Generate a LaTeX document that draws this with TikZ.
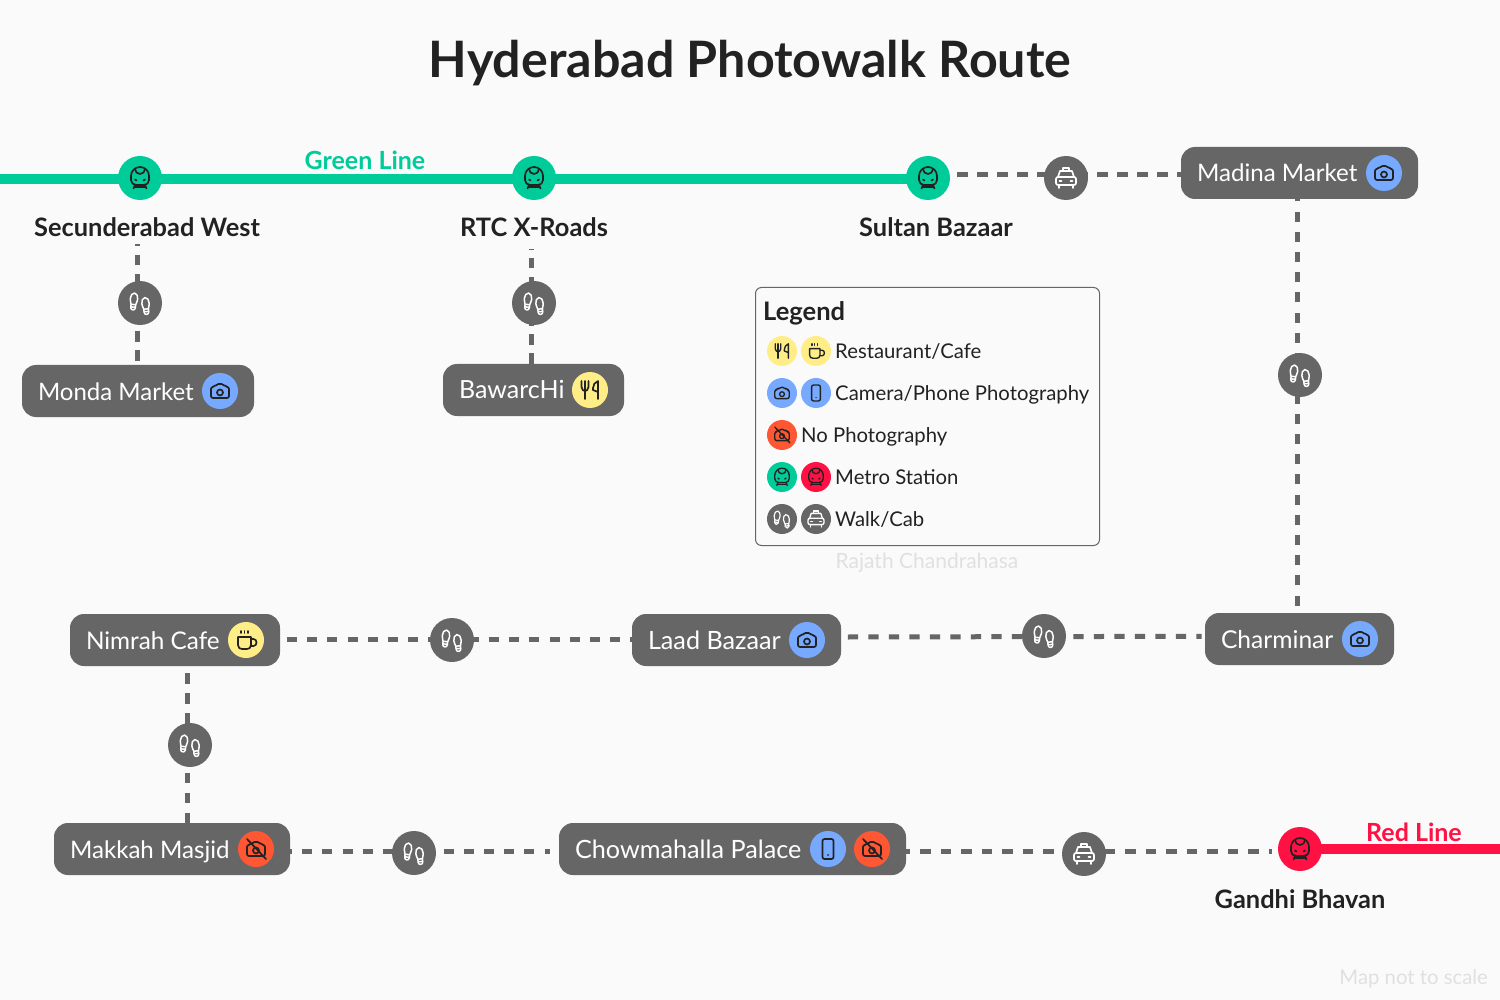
\documentclass[tikz,border=0pt]{standalone}
\usepackage{fontspec}
\setmainfont{Lato}
\usetikzlibrary{backgrounds,calc}
\definecolor{bgc}{HTML}{FAFAFA}
\definecolor{gc}{HTML}{00CC99}
\definecolor{rc}{HTML}{FF1144}
\definecolor{yc}{HTML}{FFEE88}
\definecolor{bc}{HTML}{77AAFF}
\definecolor{oc}{HTML}{FF5733}
\definecolor{pc}{HTML}{666666}
\definecolor{ink}{HTML}{222222}
\definecolor{faint}{HTML}{E0E0E0}
\newcommand{\fs}[1]{\fontsize{#1}{#1}\selectfont}
\tikzset{
  conn/.style={draw=pc,line width=5pt,dash pattern=on 10pt off 10.2pt},
  connw/.style={draw=pc,line width=5pt,dash pattern=on 10.25pt off 10.25pt},
  connv/.style={draw=pc,line width=5pt,dash pattern=on 10.5pt off 8.6pt},
  metroline/.style={line width=10pt},
  stop/.style={circle,minimum size=44pt,inner sep=0pt},
  badge/.style={circle,minimum size=36pt,inner sep=0pt},
  lbadge/.style={circle,minimum size=30pt,inner sep=0pt},
  pill/.style={rectangle,rounded corners=14pt,fill=pc,text=white,inner xsep=16pt,inner ysep=0pt,minimum height=52pt,text height=21pt,text depth=3pt},
  station/.style={font=\fs{25.4}\bfseries,text=ink,anchor=base,inner sep=0pt},
  linelabel/.style={font=\fs{25}\bfseries,anchor=base,inner sep=0pt},
  legtext/.style={font=\fs{20.3}, text=ink, anchor=base west, inner sep=0pt},
  note/.style={font=\fs{21}, text=faint, inner sep=0pt},
}
\newcommand{\icmetro}{
  \draw (-9,-2) arc[start angle=180,end angle=360,radius=9] -- (9,2) arc[start angle=0,end angle=90,radius=5] -- (-4,7) arc[start angle=90,end angle=180,radius=5] -- cycle;
  \draw (-5,-9) arc[start angle=180,end angle=0,radius=5];
  \draw (-5,1.5) -- (-3.5,2.5); \draw (5,1.5) -- (3.5,2.5);
  \draw (-5,7) -- (-6.5,10.5); \draw (5,7) -- (6.5,10.5); \draw (-5.5,9) -- (5.5,9);
}
\newcommand{\icfoot}{
  \draw (0,-8.5) .. controls (2.5,-8.5) and (3.7,-5.5) .. (3.7,-2.5) .. controls (3.7,0) and (2.5,1.5) .. (2.3,3) -- (-2.3,3) .. controls (-2.5,1.5) and (-3.7,0) .. (-3.7,-2.5) .. controls (-3.7,-5.5) and (-2.5,-8.5) .. (0,-8.5) -- cycle;
  \draw (-2.3,3) -- (-2.3,6.2) .. controls (-2.3,9.2) and (2.3,9.2) .. (2.3,6.2) -- (2.3,3);
  \draw (-2.3,5.6) -- (2.3,5.6);
}
\newcommand{\icwalk}{
  \begin{scope}[shift={(-6.3,-1.5)},rotate=-6,line width=\icsc*1.5pt]\icfoot\end{scope}
  \begin{scope}[shift={(5.8,3)},rotate=6,line width=\icsc*1.5pt]\icfoot\end{scope}
}
\newcommand{\iccab}{
  \draw (-3,-7) -- (-3,-10) -- (3,-10) -- (3,-7);
  \draw (-8,-1) -- (-6,-7) -- (6,-7) -- (8,-1);
  \draw[rounded corners=2pt] (-10,-1) -- (10,-1) -- (10,7) -- (-10,7) -- cycle;
  \draw (-6.5,3) -- (-4.5,3); \draw (4.5,3) -- (6.5,3);
  \draw (-7,7) -- (-7,10); \draw (7,7) -- (7,10);
}
\newcommand{\iccam}{
  \draw[rounded corners=2pt] (-9,-4) -- (-5.5,-4) -- (-3.5,-7) -- (3.5,-7) -- (5.5,-4) -- (9,-4) -- (9,7) -- (-9,7) -- cycle;
  \draw (0,1.5) circle[radius=3];
}
\newcommand{\icphone}{
  \draw[rounded corners=2pt] (-5.5,-10) rectangle (5.5,10);
  \draw (0,6) -- (0.1,6);
}
\newcommand{\icnocam}{
  \iccam
  \draw (-9,-10) -- (10,10);
}
\newcommand{\icfork}{
  \draw (-8.5,-9) -- (-8.5,-3) .. controls (-8.5,0) and (-6,1) .. (-5,1) .. controls (-4,1) and (-1.5,0) .. (-1.5,-3) -- (-1.5,-9);
  \draw (-5,-9) -- (-5,9);
  \draw (8,9) -- (8,-9) .. controls (5,-8) and (3,-5) .. (3,-2) -- (3,0) -- (8,2);
}
\newcommand{\iccup}{
  \draw (-8,-3) -- (5,-3) -- (5,5) .. controls (5,8) and (3,9) .. (1,9) -- (-4,9) .. controls (-6,9) and (-8,8) .. (-8,5) -- cycle;
  \draw (5,-1) -- (7.5,-1) .. controls (11.5,-1) and (11.5,6) .. (7.5,6) -- (5,6);
  \draw (-5,-9) -- (-5,-7); \draw (-1.5,-9) -- (-1.5,-7); \draw (2,-9) -- (2,-7);
}
\newcommand{\ico}[4]{%
  \begin{scope}[shift={(#2)},x=#3pt,y=-#3pt,line width=#3*1.7pt,draw=#4,line cap=round,line join=round]
  \def\icsc{#3}%
  \csname ic#1\endcsname
  \end{scope}}
\newcommand{\pillnode}[6][25]{%
  \pgfmathsetmacro{\pw}{#5-#3-32}
  \node[pill,font=\fs{#1}] (#2) at ({(#3+#5)/2},{#4+26}) {\makebox[\pw pt][l]{#6}};}
\newcommand{\badgeat}[5]{%
  \node[badge,fill=#4] (#1) at (#2,#3) {};
  \ico{#5}{#1}{1}{ink}}
\newcommand{\lbadgeat}[5]{%
  \node[lbadge,fill=#4] (#1) at (#2,#3) {};
  \ico{#5}{#1}{0.8}{ink}}
\newcommand{\stopat}[6]{%
  \node[stop,fill=#4] (#1) at (#2,#3) {};
  \ico{#5}{#1}{1}{#6}}
\begin{document}
\begin{tikzpicture}[x=1pt,y=-1pt]
\useasboundingbox (0,0) rectangle (1500,1000);
\node[font=\fs{50.2}\bfseries,text=ink,anchor=base,inner sep=0pt] (title) at (750,77.5) {Hyderabad Photowalk Route};
% stations
\stopat{secw}{140}{178}{gc}{metro}{ink}
\stopat{rtc}{534}{178}{gc}{metro}{ink}
\stopat{sultan}{928}{178}{gc}{metro}{ink}
\stopat{gandhi}{1300}{849}{rc}{metro}{ink}
\node[station] (secwl) at (147,237) {Secunderabad West};
\node[station] (rtcl) at (534,237) {RTC X-Roads};
\node[station] (sultanl) at (936,237) {Sultan Bazaar};
\node[station] (gandhil) at (1300,908) {Gandhi Bhavan};
\node[linelabel,text=gc] (greenl) at (365,169.5) {Green Line};
\node[linelabel,text=rc] (redl) at (1414,841) {Red Line};
\coordinate (greenstart) at (0,179);
\coordinate (redend) at (1500,849);
% transfer circles
\stopat{w1}{140}{303}{pc}{walk}{white}
\stopat{w2}{534}{303}{pc}{walk}{white}
\stopat{w3}{1300}{375}{pc}{walk}{white}
\stopat{w4}{1044}{636}{pc}{walk}{white}
\stopat{w5}{452}{640}{pc}{walk}{white}
\stopat{w6}{190}{745}{pc}{walk}{white}
\stopat{w7}{414}{853}{pc}{walk}{white}
\stopat{c1}{1066}{178}{pc}{cab}{white}
\stopat{c2}{1084}{854}{pc}{cab}{white}
% pills
\pillnode[24]{monda}{22}{365}{254}{Monda Market}
\badgeat{mondab}{220}{391}{bc}{cam}
\pillnode{bawarchi}{443}{364}{624}{BawarcHi}
\badgeat{bawarchib}{590}{390}{yc}{fork}
\pillnode[24.1]{madina}{1181}{147}{1418}{Madina Market}
\badgeat{madinab}{1384}{173}{bc}{cam}
\pillnode[24.6]{charminar}{1205}{613}{1394}{Charminar}
\badgeat{charminarb}{1360}{639}{bc}{cam}
\pillnode[25.2]{laad}{632}{614}{841}{Laad Bazaar}
\badgeat{laadb}{807}{640}{bc}{cam}
\pillnode[24.3]{nimrah}{70}{614}{280}{Nimrah Cafe}
\badgeat{nimrahb}{246}{640}{yc}{cup}
\pillnode[24.1]{makkah}{54}{823}{290}{Makkah Masjid}
\badgeat{makkahb}{256}{849}{oc}{nocam}
\pillnode[25.2]{chow}{559}{823}{906}{Chowmahalla Palace}
\badgeat{chowa}{828}{849}{bc}{phone}
\badgeat{chowb}{872}{849}{oc}{nocam}
% legend
\node[draw=pc,fill=none,rounded corners=6pt,line width=1pt,minimum width=344pt,minimum height=258pt,inner sep=0pt] (legend) at (927.5,416.5) {};
\node[font=\fs{25.5}\bfseries,text=ink,anchor=base west,inner sep=0pt] (legt) at (763,320.5) {Legend};
\lbadgeat{l1a}{782}{351}{yc}{fork}
\lbadgeat{l1b}{816}{351}{yc}{cup}
\node[legtext] (l1t) at (835,358.5) {Restaurant/Cafe};
\lbadgeat{l2a}{782}{393}{bc}{cam}
\lbadgeat{l2b}{816}{393}{bc}{phone}
\node[legtext] (l2t) at (835,400.5) {Camera/Phone Photography};
\lbadgeat{l3a}{782}{435}{oc}{nocam}
\node[legtext] (l3t) at (801,442.5) {No Photography};
\lbadgeat{l4a}{782}{477}{gc}{metro}
\lbadgeat{l4b}{816}{477}{rc}{metro}
\node[legtext] (l4t) at (835,484.5) {Metro Station};
\node[lbadge,fill=pc] (l5a) at (782,519) {};
\ico{walk}{l5a}{0.8}{white}
\node[lbadge,fill=pc] (l5b) at (816,519) {};
\ico{cab}{l5b}{0.8}{white}
\node[legtext] (l5t) at (835,526.5) {Walk/Cab};
\node[note,anchor=base] (credit) at (927,568) {Rajath Chandrahasa};
\node[note,anchor=base east,font=\fs{20.3}] (scale) at (1488,984) {Map not to scale};
% connectors
\begin{pgfonlayer}{background}
\fill[bgc] (0,0) rectangle (1500,1000);
\draw[metroline,gc] (greenstart) -- ([shift={(0,1)}]sultan.center);
\draw[metroline,rc] (gandhi.center) -- (redend);
\draw[conn,dash pattern=on 10.5pt off 9.5pt] ([shift={(7,-3)}]sultan.east) -- ([shift={(0,2)}]madina.west);
\draw[conn] ([shift={(-2,-7.3)}]charminar.north) -- ([shift={(-2,0)}]madina.south);
\draw[connw] ([shift={(6.7,-3)}]laad.east) -- ([shift={(-3.3,-2.7)}]charminar.west);
\draw[conn] ([shift={(6.7,-0.7)}]nimrah.east) -- ([shift={(0,-0.7)}]laad.west);
\draw[connv,dash pattern=on 10.5pt off 9.4pt] ([shift={(12.5,7)}]nimrah.south) -- ([shift={(12.5,0)}]nimrah.south |- makkah.north);
\draw[conn] ([shift={(-8.3,2.5)}]makkah.east) -- ([shift={(-9,2.5)}]chow.west);
\draw[connw] ([shift={(-6.4,2.5)}]chow.east) -- ([shift={(-6,2.5)}]gandhi.west);
\draw[connv] ([shift={(-0.5,-4)}]monda.north) -- ([shift={(-0.5,0)}]monda.north |- 0,244);
\draw[connv] ([shift={(-2,0)}]bawarchi.north) -- ([shift={(-2,0)}]bawarchi.north |- 0,249);
\end{pgfonlayer}
\end{tikzpicture}
\end{document}
